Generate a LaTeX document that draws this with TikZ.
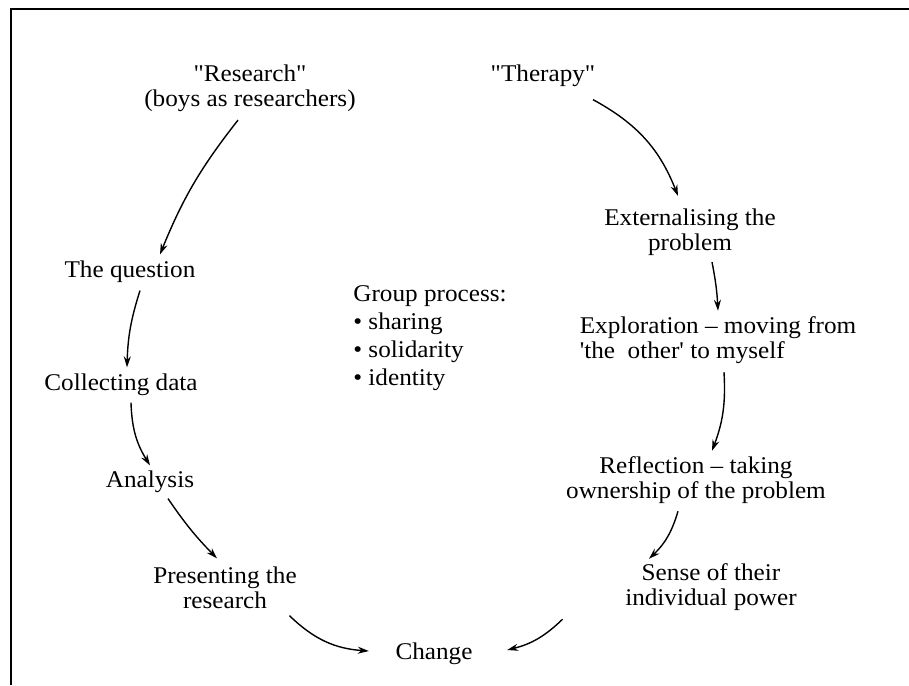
\documentclass[tikz,border=0pt]{standalone}
\usepackage{fontspec}
\setmainfont{Liberation Serif}[Ligatures=TeXOff, FakeStretch=1.05]
\usetikzlibrary{positioning,arrows.meta}

\begin{document}
\begin{tikzpicture}[x=1pt, y=1pt, node distance=100pt, on grid, line width=1.4pt,
    >={Stealth[length=11pt,width=7pt]},
    every node/.style={font=\fontsize{24}{25}\selectfont, align=center, inner sep=2pt}]
    \node (res) {"Research"\\(boys as researchers)};
    \node (ther) [above right=12pt and 293pt of res] {"Therapy"};
    \node (q) [below left=184pt and 120pt of res] {The question};
    \node (coll) [below left=113pt and 9pt of q] {Collecting data};
    \node (ana) [below right=97pt and 29pt of coll] {Analysis};
    \node (pres) [below right=106pt and 75pt of ana] {Presenting the\\research};
    \node (chg) [below right=66pt and 209pt of pres] {Change};
    \node (ext) [below right=156pt and 147pt of ther] {Externalising the\\problem};
    \node (expl) [below right=108pt and 28pt of ext, align=left] {Exploration – moving from\\'the\ \ other' to myself};
    \node (refl) [below left=140pt and 22pt of expl] {Reflection – taking\\ownership of the problem};
    \node (sense) [below right=107pt and 15pt of refl] {Sense of their\\individual power};
    \node (grp) [below right=250pt and 180pt of res, align=left, font=\fontsize{24}{28}\selectfont] {Group process:\\• sharing\\• solidarity\\• identity};

    % page edge
    \useasboundingbox ([xshift=-250pt,yshift=88pt]res.center) rectangle ([xshift=659pt,yshift=-597pt]res.center);
    \draw[line width=1.5pt] ([xshift=-239pt,yshift=-597pt]res.center) |- ([xshift=659pt,yshift=79pt]res.center);

    \path[->]
    ([xshift=-12pt,yshift=-6pt]res.south) edge[bend right=8] ([xshift=30pt,yshift=4pt]q.north)
    ([xshift=10pt,yshift=-5pt]q.south) edge[bend right=8] ([xshift=6pt,yshift=4pt]coll.north)
    ([xshift=10pt,yshift=-4pt]coll.south) edge[bend right=15] ([yshift=3pt]ana.north)
    ([xshift=18pt,yshift=-3pt]ana.south) edge[bend right=5] ([xshift=-8pt,yshift=6pt]pres.north)
    ([xshift=-10pt,yshift=-4pt]pres.south east) edge[bend right=20] ([xshift=-24pt,yshift=3pt]chg.west)
    ([xshift=-5pt,yshift=-10pt]ther.south east) edge[bend left=20] ([xshift=-12pt,yshift=10pt]ext.north)
    ([xshift=22pt,yshift=-4pt]ext.south) edge[bend left=4] ([xshift=0pt,yshift=3pt]expl.north)
    ([xshift=6pt,yshift=-6pt]expl.south) edge[bend left=12] ([xshift=16pt,yshift=3pt]refl.north)
    ([xshift=-18pt,yshift=-5pt]refl.south) edge[bend left=15] ([xshift=-62pt,yshift=2pt]sense.north)
    ([xshift=-60pt,yshift=-6pt]sense.south west) edge[bend left=15] ([xshift=32pt,yshift=4pt]chg.east);
\end{tikzpicture}
\end{document}
